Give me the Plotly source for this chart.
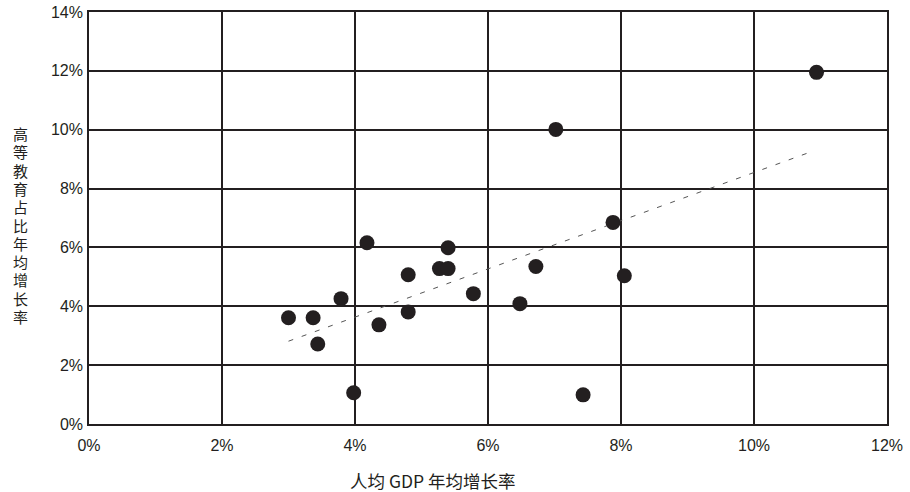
import numpy as np
import plotly.graph_objects as go

gdp_growth = [3.0, 3.37, 3.44, 3.79, 3.98, 4.18, 4.36, 4.80, 4.80, 5.27, 5.40, 5.40,
              5.78, 6.48, 6.72, 7.02, 7.43, 7.88, 8.05, 10.94]
edu_growth = [3.61, 3.61, 2.72, 4.26, 1.06, 6.16, 3.37, 5.07, 3.81, 5.28, 5.28, 5.99,
              4.43, 4.09, 5.35, 10.01, 0.99, 6.85, 5.04, 11.95]
trend_end = 10.8
x_ticks = [0, 2, 4, 6, 8, 10, 12]
y_ticks = [0, 2, 4, 6, 8, 10, 12, 14]
x_title = "人均 GDP 年均增长率"
y_title = "高等教育占比年均增长率"

x = np.array(gdp_growth)
y = np.array(edu_growth)
k, b = np.polyfit(x, y, 1)
tx = np.array([x.min(), trend_end])
ty = k * tx + b

W, H = 910, 492
L, R, T, B = 89, 887, 12, 424
pw, ph = R - L, B - T

ink = "#231f20"
fig = go.Figure()
fig.add_trace(go.Scatter(x=tx, y=ty, mode="lines",
                         line=dict(color="#555555", width=1, dash="5px,9px"),
                         hoverinfo="skip", showlegend=False))
fig.add_trace(go.Scatter(x=x, y=y, mode="markers",
                         marker=dict(color=ink, size=15, line=dict(width=0)),
                         showlegend=False))

font = "Liberation Sans, Arial, sans-serif"
cjk = "Noto Sans CJK SC, sans-serif"
annotations = [
    dict(text=x_title, xref="paper", yref="paper", x=(433 - L) / pw, y=-(480 - B) / ph,
         xanchor="center", yanchor="middle", showarrow=False,
         font=dict(size=17.5, family=cjk, color=ink)),
]
pitch = 18.3
n = len(y_title)
y_center = 225
for i, ch in enumerate(y_title):
    py = y_center + (i - (n - 1) / 2) * pitch
    annotations.append(dict(text=ch, xref="paper", yref="paper",
                            x=(20 - L) / pw, y=(B - py) / ph,
                            xanchor="center", yanchor="middle", showarrow=False,
                            font=dict(size=15, family=cjk, color=ink)))

fig.update_layout(
    width=W, height=H,
    margin=dict(l=L, r=W - R, t=T, b=H - B, pad=0),
    paper_bgcolor="white", plot_bgcolor="white",
    font=dict(family=font, size=16, color=ink),
    xaxis=dict(range=[0, 12], tickvals=x_ticks, ticktext=[f"{v}%" for v in x_ticks],
               tickfont=dict(size=16, family=font, color=ink),
               showgrid=True, gridcolor=ink, gridwidth=1.6, zeroline=False,
               showline=True, linecolor=ink, linewidth=1.6, mirror=True,
               ticks="outside", ticklen=6, tickcolor="rgba(0,0,0,0)",
               automargin=False, fixedrange=True),
    yaxis=dict(range=[0, 14], tickvals=y_ticks, ticktext=[f"{v}%" for v in y_ticks],
               tickfont=dict(size=16, family=font, color=ink),
               showgrid=True, gridcolor=ink, gridwidth=1.6, zeroline=False,
               showline=True, linecolor=ink, linewidth=1.6, mirror=True,
               ticks="outside", ticklen=1, tickcolor="rgba(0,0,0,0)",
               automargin=False, fixedrange=True),
    annotations=annotations,
)
fig.write_html("out.html", config={"displayModeBar": False},
               post_script="document.body.style.margin='0';document.body.style.overflow='hidden';")
